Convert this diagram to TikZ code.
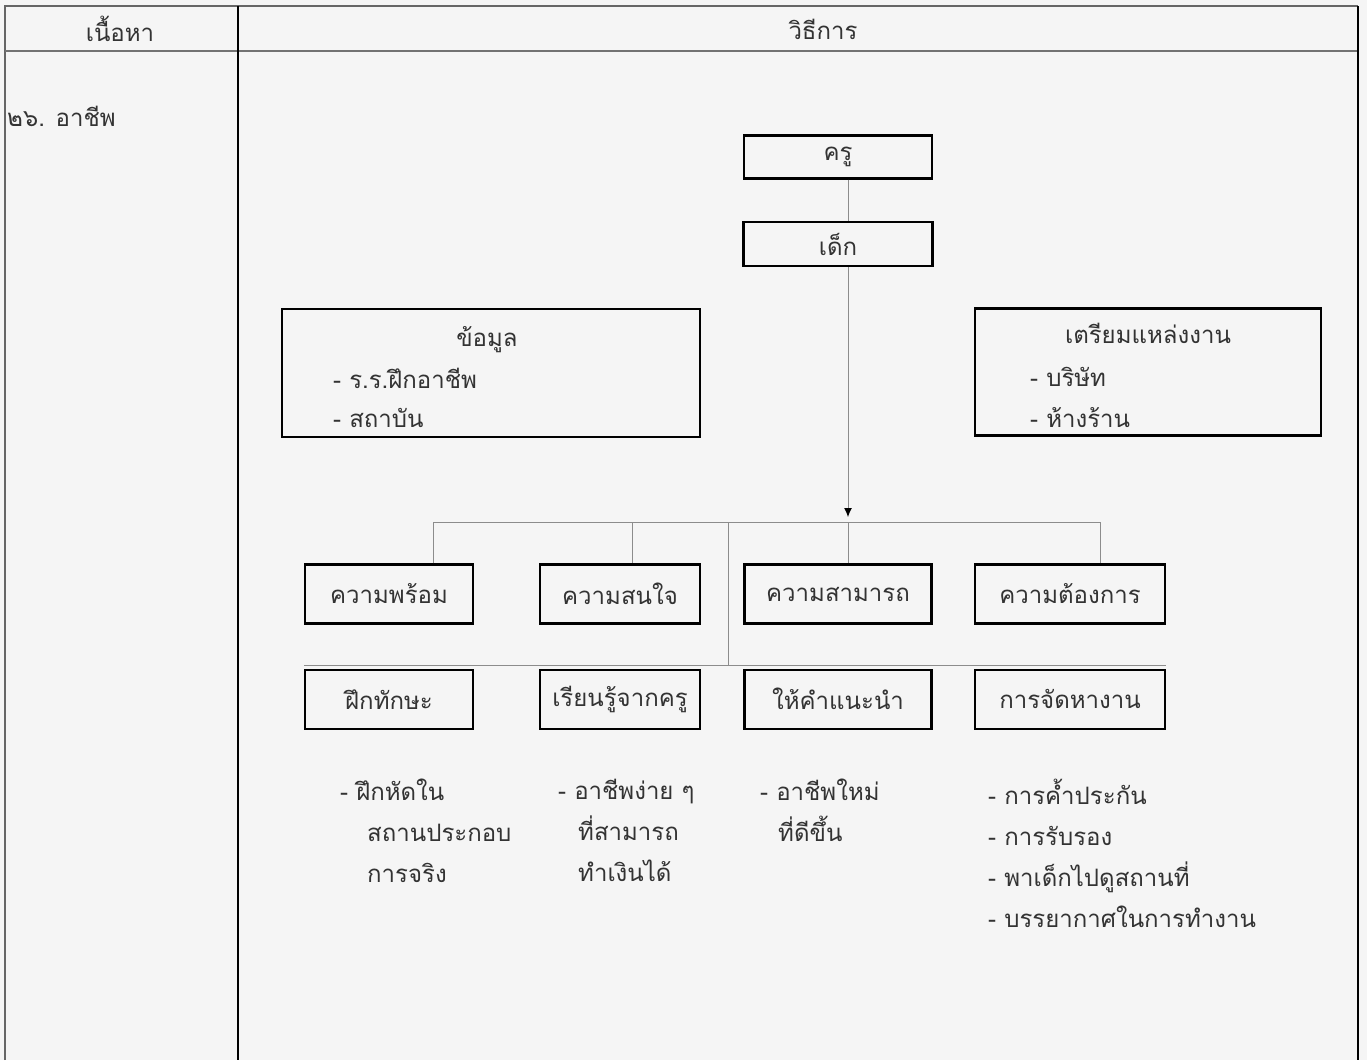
\documentclass[tikz,border=0pt]{standalone}
\usepackage{fontspec}
\newfontfamily\thaifont[Script=Thai]{Loma}
\usetikzlibrary{positioning}
\usetikzlibrary{arrows.meta}

\begin{document}
\begin{tikzpicture}[x=1pt,y=-1pt,
  box/.style={draw=black,line width=2.2pt,minimum height=59pt,inner sep=0pt},
  txt/.style={font=\thaifont\fontsize{24}{41}\selectfont,text=black!80,inner sep=0pt},
  link/.style={draw=black!45,line width=1pt}]
 \fill[black!4] (0,0) rectangle (1367,1060);
 \useasboundingbox (0,0) rectangle (1367,1060);
 % table
 \draw[black!60,line width=1.2pt] (5,1060)--(5,6)--(1358,6);
 \draw[black!55,line width=1.2pt] (5,51)--(1358,51);
 \draw[black,line width=2pt] (238,6)--(238,1060);
 \draw[black,line width=2pt] (1358,6)--(1358,1060);
 \node[txt] (colA) at (120,29) {เนื้อหา};
 \node[txt] (colB) at (823,29) {วิธีการ};
 \node[txt,anchor=west] (topic) at (7,116) {๒๖. อาชีพ};
 % top
 \node[box,txt,minimum width=188pt,minimum height=43pt] (kru) at (838,157) {ครู};
 \node[box,txt,minimum width=189pt,minimum height=44pt] (dek) at (838,244) {เด็ก};
 \node[box,minimum width=418pt,minimum height=128pt] (info) at (491,373) {};
 \node[txt] (infoT) at (487,340) {ข้อมูล};
 \node[txt,anchor=west] (infoA) at (333,378) {- ร.ร.ฝึกอาชีพ};
 \node[txt,anchor=west] (infoB) at (333,418) {- สถาบัน};
 \node[box,minimum width=346pt,minimum height=127pt] (job) at (1148,372) {};
 \node[txt] (jobT) at (1148,333) {เตรียมแหล่งงาน};
 \node[txt,anchor=west] (jobA) at (1030,377) {- บริษัท};
 \node[txt,anchor=west] (jobB) at (1030,418) {- ห้างร้าน};
 % rows
 \node[box,txt,minimum width=168pt] (ready) at (389,594) {ความพร้อม};
 \node[box,txt,minimum width=160pt] (interest) at (620,594) {ความสนใจ};
 \node[box,txt,minimum width=187pt] (ability) at (838,594) {ความสามารถ};
 \node[box,txt,minimum width=190pt] (need) at (1070,594) {ความต้องการ};
 \node[box,txt,minimum width=168pt,below=44pt of ready] (skill) {ฝึกทักษะ};
 \node[box,txt,minimum width=160pt,below=44pt of interest] (learn) {เรียนรู้จากครู};
 \node[box,txt,minimum width=187pt,below=44pt of ability] (advice) {ให้คำแนะนำ};
 \node[box,txt,minimum width=190pt,below=44pt of need] (place) {การจัดหางาน};
 % links
 \coordinate (trunk) at (848,0);
 \coordinate (tip) at (848,517);
 \coordinate (hub) at (848,522);
 \coordinate (busL) at (433,522);
 \coordinate (busB) at (632,522);
 \coordinate (busC) at (728,522);
 \coordinate (busR) at (1100,522);
 \draw[link] (kru.south -| trunk) -- (dek.north -| trunk);
 \draw[link,-{Latex[black,length=9pt,width=8pt]}] (dek.south -| trunk) -- (tip);
 \draw[link] (ready.north -| busL) |- (busR) -- (need.north -| busR);
 \draw[link] (busB) -- (interest.north -| busB);
 \draw[link] (hub) -- (ability.north -| hub);
 \draw[link] (busC) -- ([yshift=3pt]busC |- skill.north);
 \draw[link] ([yshift=3pt]skill.north west) -- ([yshift=3pt]place.north east);
 % notes
 \node[txt,align=left,anchor=north west] (skillNote) at (340,779)
   {- ฝึกหัดใน\\\hspace*{27pt}สถานประกอบ\\\hspace*{27pt}การจริง};
 \node[txt,align=left,anchor=north west] (learnNote) at (558,779)
   {- อาชีพง่าย ๆ\\\hspace*{20pt}ที่สามารถ\\\hspace*{20pt}ทำเงินได้};
 \node[txt,align=left,anchor=north west] (adviceNote) at (760,779)
   {- อาชีพใหม่\\\hspace*{18pt}ที่ดีขึ้น};
 \node[txt,align=left,anchor=north west] (placeNote) at (988,779)
   {- การค้ำประกัน\\- การรับรอง\\- พาเด็กไปดูสถานที่\\- บรรยากาศในการทำงาน};
\end{tikzpicture}
\end{document}
